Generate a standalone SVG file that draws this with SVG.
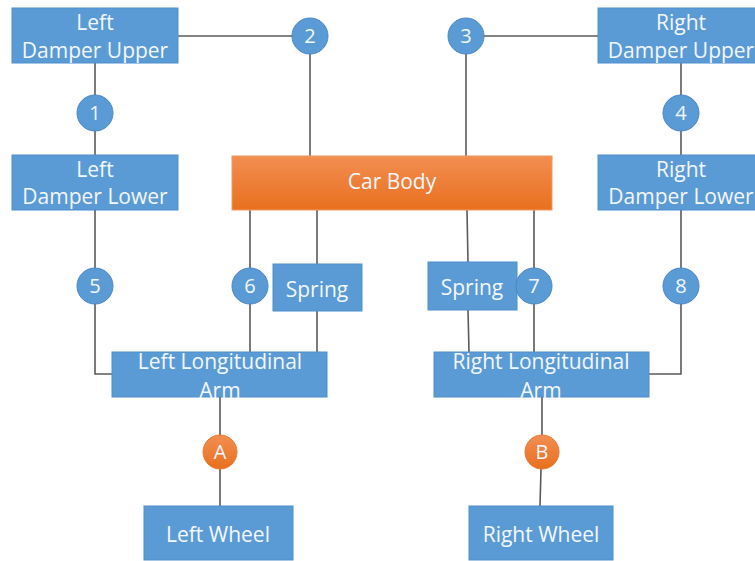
<svg xmlns="http://www.w3.org/2000/svg" width="755" height="561" viewBox="0 0 755 561">
<defs>
<linearGradient id="og" x1="0" y1="0" x2="0" y2="1">
<stop offset="0" stop-color="#F28E52"/>
<stop offset="1" stop-color="#E8701E"/>
</linearGradient>
<style>
.box{fill:#5B9BD5;stroke:#4E8DCB;stroke-width:1}
.obox{fill:url(#og);stroke:#F09A63;stroke-width:1}
.c{fill:#5B9BD5;stroke:#4A86C4;stroke-width:1}
.oc{fill:url(#og);stroke:#E67A33;stroke-width:1}
.t{font-family:"Open Sans","Liberation Sans",sans-serif;font-size:21px;fill:#F3F7FC;text-anchor:middle}
.n{font-family:"Open Sans","Liberation Sans",sans-serif;font-size:20px;fill:#F3F7FC;text-anchor:middle}
.ln{fill:none;stroke:#5A5A5A;stroke-width:1.6}
</style>
</defs>
<rect width="755" height="561" fill="#FFFFFF"/>
<g id="connectors">
<path class="ln" d="M178 36H292"/>
<path class="ln" d="M310 54V156"/>
<path class="ln" d="M484 36H598"/>
<path class="ln" d="M466 54V156"/>
<path class="ln" d="M95 63V95M95 131V155"/>
<path class="ln" d="M681 63V95M681 131V155"/>
<path class="ln" d="M95 210V268M95 304V374H112"/>
<path class="ln" d="M250 210V268M250 304V352"/>
<path class="ln" d="M317 210V264M317 311V352"/>
<path class="ln" d="M467 210L468 262M468 310L469 352"/>
<path class="ln" d="M534 210V268M534 304V352"/>
<path class="ln" d="M681 210V268M681 304V374H649"/>
<path class="ln" d="M220 397V435M220 469V506"/>
<path class="ln" d="M542 397V435M541 469L540 506"/>
</g>
<g id="left-damper-upper"><rect class="box" x="12" y="8" width="166" height="55"/><text class="t" x="95" y="30">Left</text><text class="t" x="95" y="58">Damper Upper</text></g>
<g id="right-damper-upper"><rect class="box" x="598" y="8" width="166" height="55"/><text class="t" x="681" y="30">Right</text><text class="t" x="681" y="58">Damper Upper</text></g>
<g id="left-damper-lower"><rect class="box" x="12" y="155" width="166" height="55"/><text class="t" x="95" y="177">Left</text><text class="t" x="95" y="204">Damper Lower</text></g>
<g id="right-damper-lower"><rect class="box" x="598" y="155" width="166" height="55"/><text class="t" x="681" y="177">Right</text><text class="t" x="681" y="204">Damper Lower</text></g>
<g id="car-body"><rect class="obox" x="232" y="156" width="320" height="54"/><text class="t" x="392" y="189">Car Body</text></g>
<g id="left-spring"><rect class="box" x="273" y="264" width="89" height="47"/><text class="t" x="317" y="297">Spring</text></g>
<g id="right-spring"><rect class="box" x="428" y="262" width="89" height="48"/><text class="t" x="472" y="295">Spring</text></g>
<g id="left-arm"><rect class="box" x="112" y="352" width="215" height="45"/><text class="t" x="220" y="369">Left Longitudinal</text><text class="t" x="220" y="398">Arm</text></g>
<g id="right-arm"><rect class="box" x="434" y="352" width="215" height="45"/><text class="t" x="541" y="369">Right Longitudinal</text><text class="t" x="541" y="398">Arm</text></g>
<g id="left-wheel"><rect class="box" x="144" y="506" width="149" height="54"/><text class="t" x="218" y="542">Left Wheel</text></g>
<g id="right-wheel"><rect class="box" x="469" y="506" width="144" height="54"/><text class="t" x="541" y="542">Right Wheel</text></g>
<g id="j1"><circle class="c" cx="95" cy="113" r="18"/><text class="n" x="95" y="120">1</text></g>
<g id="j2"><circle class="c" cx="310" cy="36" r="18"/><text class="n" x="310" y="43">2</text></g>
<g id="j3"><circle class="c" cx="466" cy="36" r="18"/><text class="n" x="466" y="43">3</text></g>
<g id="j4"><circle class="c" cx="681" cy="113" r="18"/><text class="n" x="681" y="120">4</text></g>
<g id="j5"><circle class="c" cx="95" cy="286" r="18"/><text class="n" x="95" y="293">5</text></g>
<g id="j6"><circle class="c" cx="250" cy="286" r="18"/><text class="n" x="250" y="293">6</text></g>
<g id="j7"><circle class="c" cx="534" cy="286" r="18"/><text class="n" x="534" y="293">7</text></g>
<g id="j8"><circle class="c" cx="681" cy="286" r="18"/><text class="n" x="681" y="293">8</text></g>
<g id="jA"><circle class="oc" cx="220" cy="452" r="17"/><text class="n" x="220" y="459">A</text></g>
<g id="jB"><circle class="oc" cx="542" cy="452" r="17"/><text class="n" x="542" y="459">B</text></g>
</svg>
